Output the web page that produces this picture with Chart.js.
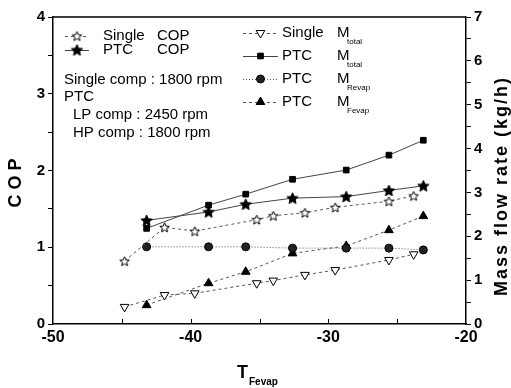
<!DOCTYPE html>
<html><head><meta charset="utf-8">
<script src="https://cdn.jsdelivr.net/npm/chart.js@4/dist/chart.umd.min.js"></script>
<style>html,body{margin:0;padding:0;background:#fff}#wrap{width:511px;height:388px}</style>
</head><body><div id="wrap"><canvas id="c" width="511" height="388"></canvas></div>
<script>
// ---- data ----
const singleTemp   = [-44.8, -41.9, -39.7, -35.2, -34.0, -31.7, -29.5, -25.6, -23.8];
const singleCOP    = [0.82, 1.26, 1.21, 1.36, 1.41, 1.45, 1.52, 1.60, 1.67];
const singleMtotal = [0.39, 0.66, 0.70, 0.93, 0.99, 1.12, 1.23, 1.46, 1.59];
const ptcTemp      = [-43.2, -38.7, -36.0, -32.6, -28.7, -25.6, -23.1];
const ptcCOP       = [1.35, 1.46, 1.56, 1.64, 1.66, 1.74, 1.80];
const ptcMtotal    = [2.18, 2.71, 2.96, 3.30, 3.51, 3.85, 4.19];
const ptcMRevap    = [1.76, 1.76, 1.76, 1.73, 1.73, 1.73, 1.69];
const ptcMFevap    = [0.43, 0.93, 1.19, 1.61, 1.78, 2.14, 2.46];
const xTickLabels  = [-50, -40, -30, -20];
const copTickLabels = [0, 1, 2, 3, 4];
const massTickLabels = [0, 1, 2, 3, 4, 5, 6, 7];
const noteLines = ["Single comp : 1800 rpm", "PTC", "LP comp : 2450 rpm", "HP comp : 1800 rpm"];

const FONT = "'Liberation Sans', Arial, sans-serif";
function pts(xs, ys){ return xs.map((x,i)=>({x:x, y:ys[i]})); }
function starImg(r, filled){
  const s = Math.ceil(r*2+3), c = document.createElement('canvas');
  c.width = s; c.height = s;
  const g = c.getContext('2d'), cx = s/2, cy = s/2 + 0.5, ri = r*0.45;
  g.beginPath();
  for (let i=0;i<10;i++){
    const a = -Math.PI/2 + i*Math.PI/5, rr = i%2 ? ri : r;
    const px = cx + rr*Math.cos(a), py = cy + rr*Math.sin(a);
    i ? g.lineTo(px,py) : g.moveTo(px,py);
  }
  g.closePath();
  g.fillStyle = filled ? '#000' : '#fff'; g.fill();
  g.strokeStyle = '#000'; g.lineWidth = 1; g.stroke();
  return c;
}
const openStar = starImg(5, false), fillStar = starImg(6, true);

const datasets = [
  {label:'Single COP', data:pts(singleTemp,singleCOP), yAxisID:'y', borderColor:'#555', borderWidth:1, borderDash:[3,3],
   pointStyle:openStar, pointRadius:6, name:'Single', qty:'COP'},
  {label:'PTC COP', data:pts(ptcTemp,ptcCOP), yAxisID:'y', borderColor:'#444', borderWidth:1, borderDash:[],
   pointStyle:fillStar, pointRadius:7, name:'PTC', qty:'COP'},
  {label:'Single Mtotal', data:pts(singleTemp,singleMtotal), yAxisID:'y1', borderColor:'#555', borderWidth:1, borderDash:[3,3],
   pointStyle:'triangle', rotation:180, pointRadius:5, backgroundColor:'#fff', pointBorderColor:'#000', pointBorderWidth:1, name:'Single', qty:'M', sub:'total'},
  {label:'PTC Mtotal', data:pts(ptcTemp,ptcMtotal), yAxisID:'y1', borderColor:'#444', borderWidth:1, borderDash:[],
   pointStyle:'rect', pointRadius:4, backgroundColor:'#000', pointBorderColor:'#000', pointBorderWidth:1, name:'PTC', qty:'M', sub:'total'},
  {label:'PTC MRevap', data:pts(ptcTemp,ptcMRevap), yAxisID:'y1', borderColor:'#555', borderWidth:1, borderDash:[1,2],
   pointStyle:'circle', pointRadius:4, backgroundColor:'#222', pointBorderColor:'#000', pointBorderWidth:1, name:'PTC', qty:'M', sub:'Revap'},
  {label:'PTC MFevap', data:pts(ptcTemp,ptcMFevap), yAxisID:'y1', borderColor:'#555', borderWidth:1, borderDash:[3,3],
   pointStyle:'triangle', pointRadius:5, backgroundColor:'#000', pointBorderColor:'#000', pointBorderWidth:1, name:'PTC', qty:'M', sub:'Fevap'}
];
datasets.forEach(d=>{ d.showLine = true; d.fill = false; d.tension = 0;
  if(!d.pointBorderColor){ d.pointBorderColor='#000'; } d.pointBackgroundColor = d.backgroundColor || '#000'; });

const extras = {
  id:'extras',
  afterDraw(chart){
    const ctx = chart.ctx, a = chart.chartArea, xs = chart.scales.x;
    ctx.save();
    ctx.strokeStyle = '#000'; ctx.lineWidth = 1.5;
    ctx.beginPath(); ctx.moveTo(a.left, a.top); ctx.lineTo(a.right, a.top); ctx.stroke();
    ctx.lineWidth = 1;
    for (let v = -45; v < -20; v += 5){
      const px = Math.round(xs.getPixelForValue(v)) + 0.5;
      ctx.beginPath(); ctx.moveTo(px, a.bottom); ctx.lineTo(px, a.bottom - 5); ctx.stroke();
    }
    // axis titles
    ctx.fillStyle = '#000';
    ctx.font = 'bold 18px ' + FONT;
    ctx.textAlign = 'center'; ctx.textBaseline = 'middle';
    ctx.save(); ctx.translate(16, 183); ctx.rotate(-Math.PI/2); ctx.fillText('C O P', 0, 0); ctx.restore();
    ctx.save(); ctx.translate(502, 186); ctx.rotate(-Math.PI/2);
    try { ctx.letterSpacing = '2px'; } catch(e) {}
    ctx.fillText('Mass flow rate (kg/h)', 0, 0);
    try { ctx.letterSpacing = '0px'; } catch(e) {}
    ctx.restore();
    ctx.textAlign = 'left'; ctx.textBaseline = 'alphabetic';
    ctx.font = 'bold 18px ' + FONT; ctx.fillText('T', 237, 378);
    ctx.font = 'bold 10px ' + FONT; ctx.fillText('Fevap', 249, 385);
    // legends
    function sample(ds, x0, x1, y){
      ctx.save(); ctx.strokeStyle = ds.borderColor; ctx.lineWidth = 1; ctx.setLineDash(ds.borderDash);
      ctx.beginPath(); ctx.moveTo(x0, y+0.5); ctx.lineTo(x1, y+0.5); ctx.stroke(); ctx.restore();
      const meta = chart.getDatasetMeta(chart.data.datasets.indexOf(ds));
      const opts = meta.data[0].options;
      ctx.save();
      ctx.fillStyle = opts.backgroundColor; ctx.strokeStyle = opts.borderColor; ctx.lineWidth = opts.borderWidth;
      Chart.helpers.drawPoint(ctx, {pointStyle: opts.pointStyle, rotation: opts.rotation, radius: opts.radius, borderWidth: opts.borderWidth}, (x0+x1)/2, y);
      ctx.restore();
    }
    ctx.font = '15px ' + FONT; ctx.textBaseline = 'middle';
    const L = [datasets[0], datasets[1]], Ly = [36, 50];
    L.forEach((d,i)=>{ sample(d, 65, 89, Ly[i]); ctx.fillStyle='#000'; ctx.fillText(d.name, 103, Ly[i]); ctx.fillText(d.qty, 157, Ly[i]); });
    const noteX = [64, 64, 73, 73], noteY = [80, 97, 115, 133];
    noteLines.forEach((t,i)=>ctx.fillText(t, noteX[i], noteY[i]));
    const R = datasets.slice(2), Ry = [33, 56, 79, 102];
    R.forEach((d,i)=>{ sample(d, 243, 278, Ry[i]); ctx.fillStyle='#000'; ctx.font = '15px ' + FONT;
      ctx.fillText(d.name, 282, Ry[i]); ctx.fillText(d.qty, 337, Ry[i]);
      ctx.font = '8px ' + FONT; ctx.fillText(d.sub, 347, Ry[i]+9); });
    ctx.restore();
  }
};

new Chart(document.getElementById('c'), {
  type:'scatter',
  data:{datasets},
  options:{
    responsive:false, animation:false, devicePixelRatio:1,
    layout:{padding:{top:17, left:0, right:0, bottom:0}},
    plugins:{legend:{display:false}, tooltip:{enabled:false}},
    scales:{
      x:{type:'linear', min:-50, max:-20, position:'bottom',
         afterFit(s){ s.height = 64; },
         afterBuildTicks(s){ s.ticks = xTickLabels.map(v=>({value:v})); },
         ticks:{color:'#000', font:{family:FONT, size:16, weight:'bold'}, padding:4, maxRotation:0},
         grid:{display:true, drawOnChartArea:false, drawTicks:false, color:'#000'},
         border:{display:true, color:'#000', width:1.5}},
      y:{type:'linear', min:0, max:4, position:'left',
         afterFit(s){ s.width = 53; },
         ticks:{stepSize:0.5, color:'#000', font:{family:FONT, size:15, weight:'bold'}, padding:3,
                callback:(v)=> copTickLabels.includes(v) ? String(v) : ''},
         grid:{display:true, drawOnChartArea:false, drawTicks:true, tickLength:5, color:'#000'},
         border:{display:true, color:'#000', width:1.5}},
      y1:{type:'linear', min:0, max:7, position:'right',
         afterFit(s){ s.width = 45; },
         ticks:{stepSize:0.5, color:'#000', font:{family:FONT, size:15, weight:'bold'}, padding:3,
                callback:(v)=> massTickLabels.includes(v) ? String(v) : ''},
         grid:{display:true, drawOnChartArea:false, drawTicks:true, tickLength:5, color:'#000'},
         border:{display:true, color:'#000', width:1.5}}
    }
  },
  plugins:[extras]
});
</script></body></html>
